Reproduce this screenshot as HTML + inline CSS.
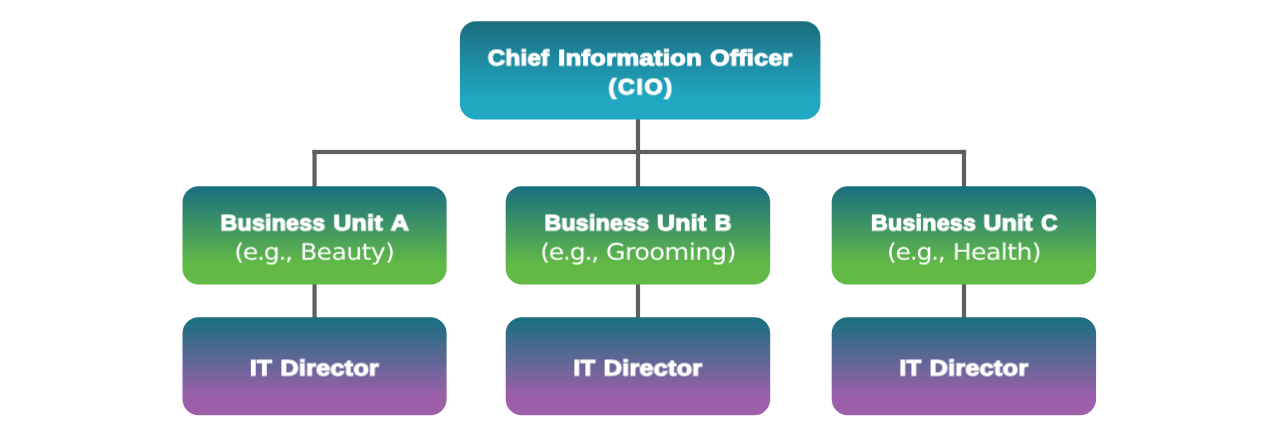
<!DOCTYPE html>
<html lang="en">
<head>
<meta charset="utf-8">
<title>IT Organization Chart</title>
<style>
*{margin:0;padding:0;box-sizing:border-box}
html,body{width:1280px;height:439px;background:#fff;overflow:hidden}
body{position:relative;font-family:"Liberation Sans",sans-serif;color:#fff}
.chart{position:absolute;left:0;top:0;width:1280px;height:439px}
.shapes{position:absolute;left:0;top:0;width:1280px;height:439px;display:block}
.box{position:absolute;height:98px;width:264px}
.box p{position:absolute;left:0;top:0;width:100%;height:0;white-space:nowrap}
.w{position:absolute;left:0;top:0;display:block;white-space:nowrap;line-height:30px;height:30px;transform-origin:0 0;will-change:transform;text-rendering:geometricPrecision}
.b{font-family:"Liberation Sans",sans-serif;font-weight:700;font-size:22.0px;-webkit-text-stroke:1.1px #fff;letter-spacing:0.2px}
.l{font-family:"DejaVu Sans","Liberation Sans",sans-serif;font-weight:400;font-size:22.77px;letter-spacing:-0.5px}
</style>
</head>
<body>
<div class="chart">
<svg class="shapes" width="1280" height="439" viewBox="0 0 1280 439" aria-hidden="true">
<defs>
<linearGradient id="g-cio" gradientUnits="userSpaceOnUse" x1="0" y1="22.18" x2="0" y2="98.82"><stop offset="0" stop-color="#1b6e7f"/><stop offset="1" stop-color="#20a8c3"/></linearGradient>
<linearGradient id="g-bu" gradientUnits="userSpaceOnUse" x1="0" y1="188.16" x2="0" y2="264.76"><stop offset="0" stop-color="#1b707f"/><stop offset="1" stop-color="#62b946"/></linearGradient>
<linearGradient id="g-it" gradientUnits="userSpaceOnUse" x1="0" y1="320.14" x2="0" y2="397.64"><stop offset="0" stop-color="#1b6f80"/><stop offset="1" stop-color="#9e5faa"/></linearGradient>
</defs>
<g fill="#5e5f61">
<rect x="635.9" y="118" width="4.2" height="70"/>
<rect x="312.47" y="149.9" width="653.63" height="4.2"/>
<rect x="312.47" y="149.9" width="4.18" height="38.1"/>
<rect x="961.9" y="149.9" width="4.2" height="38.1"/>
<rect x="312.47" y="282" width="4.18" height="37"/>
<rect x="635.9" y="282" width="4.2" height="37"/>
<rect x="961.9" y="282" width="4.2" height="37"/>
</g>
<rect x="459.9" y="21.2" width="360.5" height="98.25" rx="16" ry="16" fill="url(#g-cio)"/>
<rect x="182.5" y="186.2" width="264.1" height="98.2" rx="16" ry="16" fill="url(#g-bu)"/>
<rect x="505.7" y="186.2" width="264.5" height="98.2" rx="16" ry="16" fill="url(#g-bu)"/>
<rect x="831.7" y="186.2" width="264.4" height="98.2" rx="16" ry="16" fill="url(#g-bu)"/>
<rect x="182.5" y="317.2" width="264.1" height="98.1" rx="16" ry="16" fill="url(#g-it)"/>
<rect x="505.7" y="317.2" width="264.5" height="98.1" rx="16" ry="16" fill="url(#g-it)"/>
<rect x="831.7" y="317.2" width="264.4" height="98.1" rx="16" ry="16" fill="url(#g-it)"/>
</svg>
<div class="box cio" style="left:460px;top:21px;width:360px"><p><span class="w b" style="transform:translate(27.80px,22.33px) scaleX(1.0990) skewX(0.001deg)">Chief</span> <span class="w b" style="transform:translate(98.13px,22.33px) scaleX(1.1684) skewX(0.001deg)">Information</span> <span class="w b" style="transform:translate(249.96px,22.33px) scaleX(1.1404) skewX(0.001deg)">Officer</span></p><p><span class="w b" style="letter-spacing:1.5px;transform:translate(148.39px,51.33px) scaleX(1.0677) skewX(0.001deg)">(CIO)</span></p></div>
<div class="box bu" style="left:182px;top:186px"><p><span class="w b" style="transform:translate(38.49px,22.33px) scaleX(1.0558) skewX(0.001deg)">Business</span> <span class="w b" style="transform:translate(151.30px,22.33px) scaleX(1.1349) skewX(0.001deg)">Unit</span> <span class="w b" style="transform:translate(208.64px,22.33px) scaleX(1.1418) skewX(0.001deg)">A</span></p><p><span class="w l" style="letter-spacing:-1.2px;transform:translate(52.30px,51.71px) scaleX(1.1103) skewX(0.001deg)">(e.g.,</span> <span class="w l" style="transform:translate(118.14px,51.71px) scaleX(1.0970) skewX(0.001deg)">Beauty)</span></p></div>
<div class="box bu" style="left:506px;top:186px"><p><span class="w b" style="transform:translate(38.44px,22.33px) scaleX(1.0547) skewX(0.001deg)">Business</span> <span class="w b" style="transform:translate(150.92px,22.33px) scaleX(1.1353) skewX(0.001deg)">Unit</span> <span class="w b" style="transform:translate(208.58px,22.33px) scaleX(1.0623) skewX(0.001deg)">B</span></p><p><span class="w l" style="letter-spacing:-1.2px;transform:translate(34.20px,51.74px) scaleX(1.1112) skewX(0.001deg)">(e.g.,</span> <span class="w l" style="transform:translate(99.81px,51.74px) scaleX(1.1197) skewX(0.001deg)">Grooming)</span></p></div>
<div class="box bu" style="left:832px;top:186px"><p><span class="w b" style="transform:translate(38.96px,22.33px) scaleX(1.0567) skewX(0.001deg)">Business</span> <span class="w b" style="transform:translate(151.44px,22.33px) scaleX(1.1304) skewX(0.001deg)">Unit</span> <span class="w b" style="transform:translate(209.11px,22.33px) scaleX(1.0354) skewX(0.001deg)">C</span></p><p><span class="w l" style="letter-spacing:-1.2px;transform:translate(54.99px,51.71px) scaleX(1.1085) skewX(0.001deg)">(e.g.,</span> <span class="w l" style="transform:translate(120.70px,51.71px) scaleX(1.1027) skewX(0.001deg)">Health)</span></p></div>
<div class="box it" style="left:182px;top:317px"><p><span class="w b" style="transform:translate(67.90px,36.44px) scaleX(1.1081) skewX(0.001deg)">IT</span> <span class="w b" style="transform:translate(98.39px,36.44px) scaleX(1.1469) skewX(0.001deg)">Director</span></p></div>
<div class="box it" style="left:506px;top:317px"><p><span class="w b" style="transform:translate(67.41px,36.44px) scaleX(1.1010) skewX(0.001deg)">IT</span> <span class="w b" style="transform:translate(97.66px,36.44px) scaleX(1.1474) skewX(0.001deg)">Director</span></p></div>
<div class="box it" style="left:832px;top:317px"><p><span class="w b" style="transform:translate(67.41px,36.44px) scaleX(1.1010) skewX(0.001deg)">IT</span> <span class="w b" style="transform:translate(97.58px,36.44px) scaleX(1.1488) skewX(0.001deg)">Director</span></p></div>
</div>
</body>
</html>
